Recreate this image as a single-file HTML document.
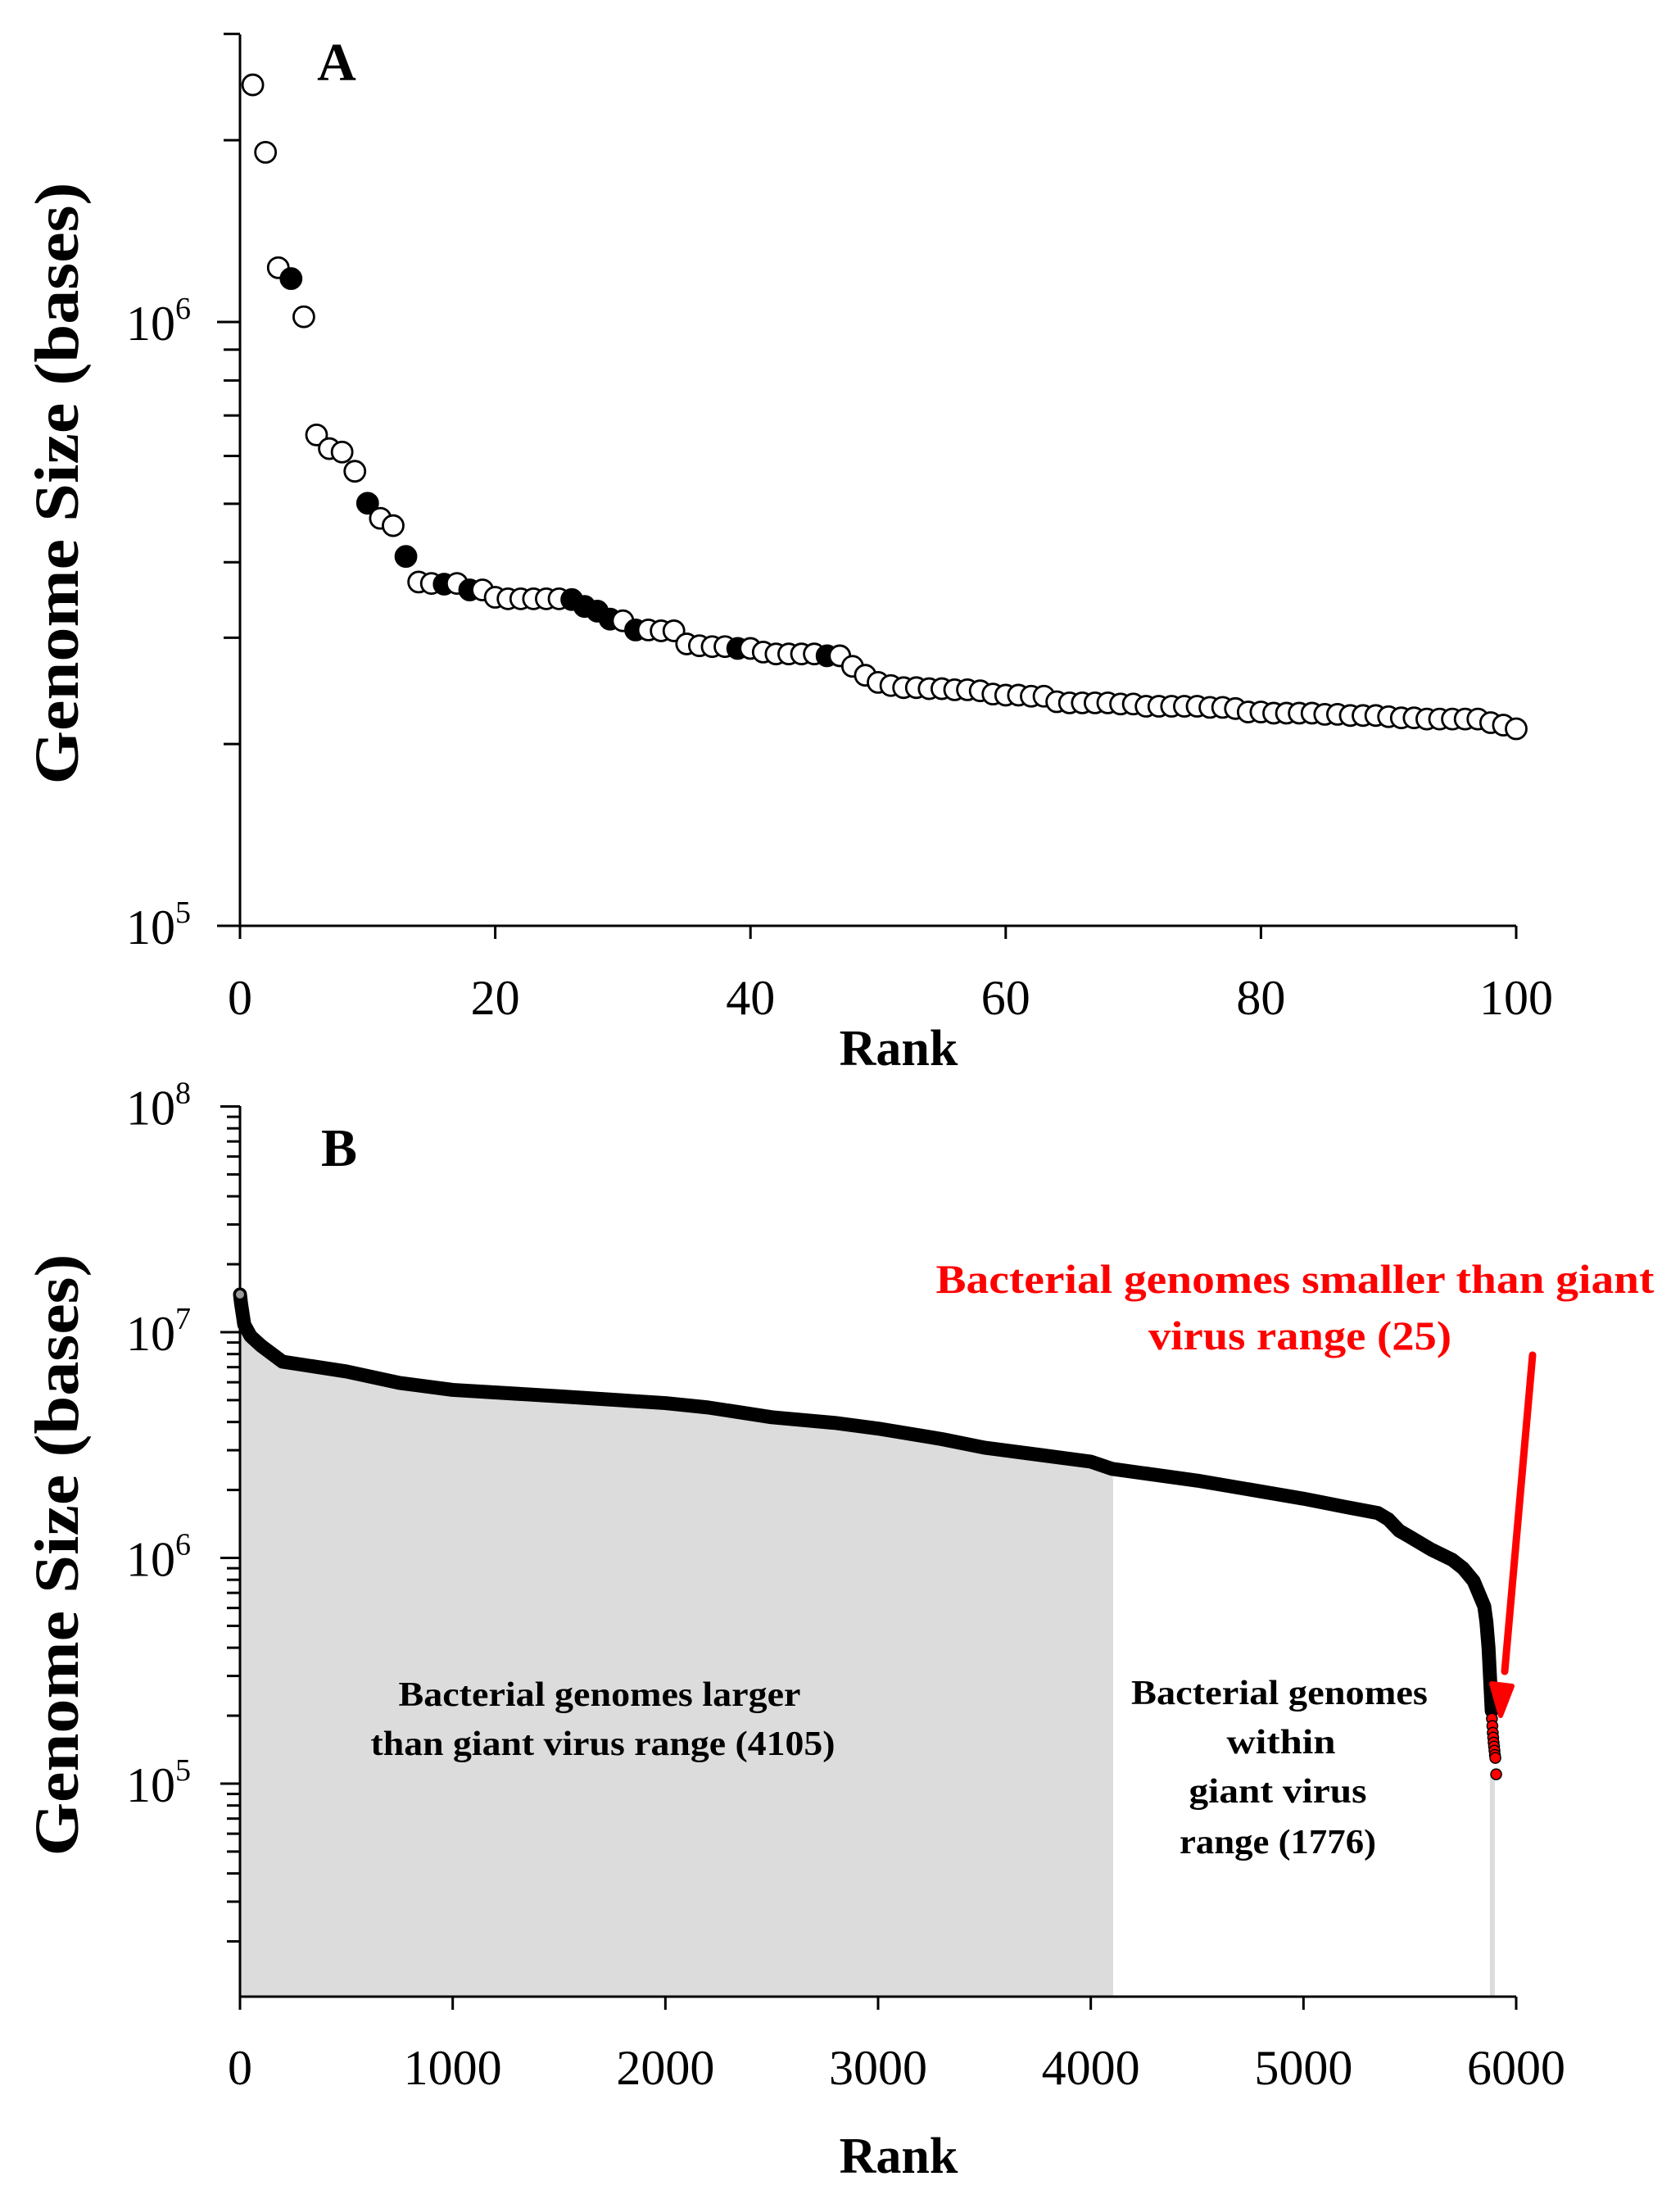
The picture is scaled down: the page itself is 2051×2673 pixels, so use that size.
<!DOCTYPE html>
<html><head><meta charset="utf-8"><style>
html,body{margin:0;padding:0;background:#fff}
svg{display:block}
text{font-family:"Liberation Serif",serif}
</style></head><body>
<svg id="fig" width="2051" height="2673" viewBox="0 0 2051 2673" xmlns="http://www.w3.org/2000/svg">
<g id="pa"></g>
<g id="pb"></g>
</svg>
<script>
// Panel A data
const rankA = Array.from({length:100},(_,i)=>i+1);
const sizeA = [2470000,1910000,1230000,1180000,1020000,650000,617000,609000,566000,501000,
473000,460000,409000,371000,369000,368000,369000,360000,360000,350000,
348000,348000,348000,348000,348000,347000,338000,332000,322000,320000,
309000,309000,308000,308000,293000,291000,290000,290000,288000,288000,
284000,282000,282000,282000,282000,280000,280000,269000,260000,253000,
250000,248000,248000,247000,247000,246000,246000,245000,242000,241000,
241000,240000,240000,235000,234000,234000,234000,234000,233000,233000,
231000,231000,231000,231000,231000,230000,230000,229000,226000,226000,
225000,225000,225000,225000,224000,224000,223000,223000,223000,222000,
221000,221000,220000,220000,220000,220000,220000,217000,215000,212000];
const filledA = [4,10,13,16,18,26,27,28,29,31,39,46];
const xTicksA = [0,20,40,60,80,100];
const yDecadesA = [5,6];
// Panel B data
const rankB = [0,5,20,50,100,200,500,750,1000,1500,2000,2200,2500,2800,3000,3300,3500,4000,4100,4500,5000,5200,5350,5400,5450,5500,5600,5700,5750,5800,5850,5860,5870,5880,5885];
const sizeB = [14700000,13400000,10800000,9600000,8700000,7400000,6700000,5960000,5550000,5200000,4850000,4640000,4200000,3960000,3740000,3360000,3080000,2670000,2480000,2200000,1830000,1680000,1580000,1480000,1320000,1240000,1090000,980000,900000,790000,610000,520000,400000,260000,210000];
const redRankB = [5886,5888,5890,5892,5894,5896,5898,5900,5902,5906];
const redSizeB = [194000,180000,168000,160000,152000,146000,140000,134000,130000,110000];
const xTicksB = [0,1000,2000,3000,4000,5000,6000];
const yDecadesB = [5,6,7,8];
const largerCount = 4105;

const NS="http://www.w3.org/2000/svg";
function mk(parent,tag,attrs){const e=document.createElementNS(NS,tag);for(const k in attrs)e.setAttribute(k,attrs[k]);parent.appendChild(e);return e;}

// ---------- Panel A ----------
const pa=document.getElementById('pa');
const ax0=293, ax1=1851, ayTop=42, ayBot=1130, aDec=737;
const xA=r=>ax0+(r/100)*(ax1-ax0);
const yA=v=>ayBot-(Math.log10(v)-5)*aDec;
let l=mk(pa,'line',{x1:ax0,y1:ayTop,x2:ax0,y2:ayBot,stroke:'#000','stroke-width':3});

l=mk(pa,'line',{x1:ax0,y1:ayBot,x2:ax1,y2:ayBot,stroke:'#000','stroke-width':3});

for(let m=1;m<=9;m++){for(const d of [5,6]){const v=m*Math.pow(10,d);const y=yA(v);if(y<ayTop-1||y>ayBot+1)continue;
 const len=(m===1)?28:20; const t=mk(pa,'line',{x1:ax0-len,y1:y,x2:ax0,y2:y,stroke:'#000','stroke-width':3});
 }}
yDecadesA.forEach(d=>{const y=yA(Math.pow(10,d));const t=mk(pa,'text',{x:233,y:y+22,'font-size':60,'text-anchor':'end'});
 t.innerHTML='10<tspan dy="-26" font-size="38">'+d+'</tspan>';
 });
xTicksA.forEach(r=>{const x=xA(r);const t=mk(pa,'line',{x1:x,y1:ayBot,x2:x,y2:ayBot+16,stroke:'#000','stroke-width':3});
 
 const tx=mk(pa,'text',{x:x,y:1238,'font-size':60,'text-anchor':'middle'});tx.textContent=r;
 });
let tt=mk(pa,'text',{x:1097,y:1300,'font-size':62,'font-weight':'bold','text-anchor':'middle'});tt.textContent='Rank';

tt=mk(pa,'text',{x:0,y:0,'font-size':76,'font-weight':'bold','text-anchor':'middle',transform:'translate(95,590) rotate(-90)',textLength:735,lengthAdjust:'spacingAndGlyphs'});tt.textContent='Genome Size (bases)';

tt=mk(pa,'text',{x:411,y:98,'font-size':66,'font-weight':'bold','text-anchor':'middle'});tt.textContent='A';

rankA.forEach((r,i)=>{const f=filledA.includes(r);const c=mk(pa,'circle',{cx:xA(r),cy:yA(sizeA[i]),r:12.5,fill:f?'#000':'#fff',stroke:'#000','stroke-width':2.8});
 });

// ---------- Panel B ----------
const pb=document.getElementById('pb');
const bx0=293,bx1=1851,byTop=1350,byBot=2437,bDec=275.5,by5=2177;
const xB=r=>bx0+(r/6000)*(bx1-bx0);
const yB=v=>by5-(Math.log10(v)-5)*bDec;
let pts=[];rankB.forEach((r,i)=>{if(r<=largerCount)pts.push([xB(r),yB(sizeB[i])]);});
const iL=rankB.findIndex(r=>r>=largerCount);pts.push([xB(largerCount),yB(sizeB[iL])]);
let d='M'+xB(0)+','+byBot+' '+pts.map(p=>'L'+p[0]+','+p[1]).join(' ')+' L'+xB(largerCount)+','+byBot+' Z';
let p=mk(pb,'path',{d:d,fill:'#dcdcdc'});
l=mk(pb,'line',{x1:xB(5888),y1:yB(redSizeB[redSizeB.length-1]),x2:xB(5888),y2:byBot,stroke:'#dcdcdc','stroke-width':6});

l=mk(pb,'line',{x1:bx0,y1:byTop,x2:bx0,y2:byBot,stroke:'#000','stroke-width':3});

l=mk(pb,'line',{x1:bx0,y1:byBot,x2:bx1,y2:byBot,stroke:'#000','stroke-width':3});

for(let dd=4;dd<=8;dd++){for(let m=1;m<=9;m++){const y=yB(m*Math.pow(10,dd));if(y<byTop-1||y>byBot)continue;
 const len=(m===1)?24:16;const t=mk(pb,'line',{x1:bx0-len,y1:y,x2:bx0,y2:y,stroke:'#000','stroke-width':3});
 }}
yDecadesB.forEach(dd=>{const y=yB(Math.pow(10,dd));const t=mk(pb,'text',{x:233,y:y+22,'font-size':60,'text-anchor':'end'});
 t.innerHTML='10<tspan dy="-26" font-size="38">'+dd+'</tspan>';
 });
xTicksB.forEach(r=>{const x=xB(r);const t=mk(pb,'line',{x1:x,y1:byBot,x2:x,y2:byBot+16,stroke:'#000','stroke-width':3});
 
 const tx=mk(pb,'text',{x:x,y:2544,'font-size':60,'text-anchor':'middle'});tx.textContent=r;
 });
tt=mk(pb,'text',{x:1097,y:2652,'font-size':62,'font-weight':'bold','text-anchor':'middle'});tt.textContent='Rank';

tt=mk(pb,'text',{x:0,y:0,'font-size':76,'font-weight':'bold','text-anchor':'middle',transform:'translate(95,1898) rotate(-90)',textLength:735,lengthAdjust:'spacingAndGlyphs'});tt.textContent='Genome Size (bases)';

tt=mk(pb,'text',{x:414,y:1423,'font-size':66,'font-weight':'bold','text-anchor':'middle'});tt.textContent='B';

const line=mk(pb,'polyline',{points:rankB.map((r,i)=>xB(r)+','+yB(sizeB[i])).join(' '),fill:'none',stroke:'#000','stroke-width':17,'stroke-linecap':'round','stroke-linejoin':'round'});

let c=mk(pb,'circle',{cx:xB(rankB[0]),cy:yB(sizeB[0]),r:6,fill:'#999',stroke:'#000','stroke-width':2});

redRankB.forEach((r,i)=>{const cc=mk(pb,'circle',{cx:xB(r),cy:yB(redSizeB[i]),r:6.5,fill:'#f00',stroke:'#000','stroke-width':1.5});
 });
function txt(x,y,s,fs,col,name,w){const t=mk(pb,'text',{x:x,y:y,'font-size':fs,'font-weight':'bold','text-anchor':'middle',fill:col});
 if(w){t.setAttribute('textLength',w);t.setAttribute('lengthAdjust','spacingAndGlyphs');}
 t.textContent=s;}
txt(1581,1578,'Bacterial genomes smaller than giant',50,'#f00','smaller-annotation-line1',877);
txt(1587,1647,'virus range (25)',50,'#f00','smaller-annotation-line2',370);
txt(732,2082,'Bacterial genomes larger',42,'#000','larger-annotation-line1',491);
txt(736,2142,'than giant virus range (4105)',42,'#000','larger-annotation-line2',567);
txt(1562,2080,'Bacterial genomes',42,'#000','within-annotation-line1',362);
txt(1564,2140,'within',42,'#000','within-annotation-line2',133);
txt(1560,2200,'giant virus',42,'#000','within-annotation-line3',217);
txt(1560,2262,'range (1776)',42,'#000','within-annotation-line4',240);
const ar=mk(pb,'line',{x1:1871,y1:1654,x2:1837,y2:2040,stroke:'#f00','stroke-width':9,'stroke-linecap':'round'});

const ah=mk(pb,'polygon',{points:'1821,2055 1846,2058 1832,2094',fill:'#f00',stroke:'#f00','stroke-width':6,'stroke-linejoin':'round'});

</script>
</body></html>
